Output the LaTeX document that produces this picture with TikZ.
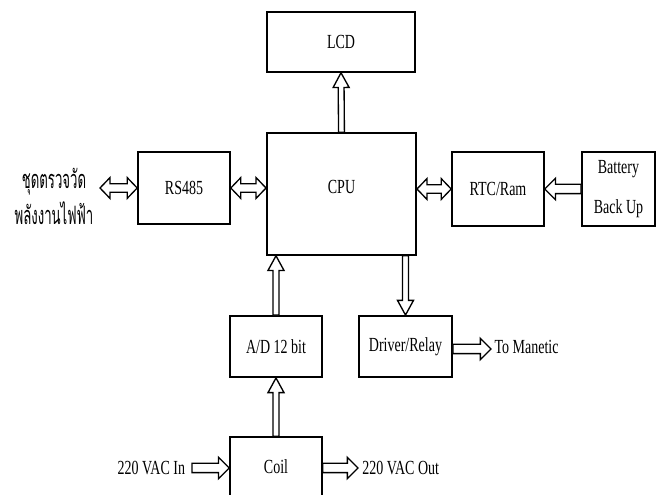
\documentclass[tikz,border=0pt]{standalone}
\usepackage{fontspec}
\setmainfont{Liberation Serif}[FakeStretch=0.7]
\newfontfamily\thaifont[Script=Thai,FakeStretch=0.52]{Loma}
\usetikzlibrary{calc}

\tikzset{
  arrw/.store in=\arrw, arrh/.store in=\arrh, arrl/.store in=\arrl,
  arrw=2.2pt, arrh=6pt, arrl=11pt,
  blk/.style={draw, line width=1.2pt, inner sep=0pt, align=center},
  txt/.style={inner sep=0pt},
  barr/.style={draw, line width=1pt, fill=white,
    to path={let \p1=(\tikztostart), \p2=(\tikztotarget), \p3=($(\p2)!\arrl!(\p1)$) in
      ($(\p1)!\arrw!90:(\p2)$) -- ($(\p3)!\arrw!90:(\p2)$) -- ($(\p3)!\arrh!90:(\p2)$) -- (\p2)
      -- ($(\p3)!\arrh!-90:(\p2)$) -- ($(\p3)!\arrw!-90:(\p2)$) -- ($(\p1)!\arrw!-90:(\p2)$) -- cycle}},
  barrboth/.style={draw, line width=1pt, fill=white,
    to path={let \p1=(\tikztostart), \p2=(\tikztotarget), \p3=($(\p2)!\arrl!(\p1)$), \p4=($(\p1)!\arrl!(\p2)$) in
      (\p1) -- ($(\p4)!\arrh!90:(\p2)$) -- ($(\p4)!\arrw!90:(\p2)$) -- ($(\p3)!\arrw!90:(\p2)$) -- ($(\p3)!\arrh!90:(\p2)$) -- (\p2)
      -- ($(\p3)!\arrh!-90:(\p2)$) -- ($(\p3)!\arrw!-90:(\p2)$) -- ($(\p4)!\arrw!-90:(\p2)$) -- ($(\p4)!\arrh!-90:(\p2)$) -- cycle}},
  hbarr/.style={barr, arrw=3.5pt, arrh=8pt, arrl=8pt},
  hbarrboth/.style={barrboth, arrw=3.2pt, arrh=7.8pt, arrl=7.5pt}
}

\begin{document}
\begin{tikzpicture}[x=0.75pt, y=-0.75pt, font=\fontsize{15}{18}\selectfont]
    \useasboundingbox (0,0) rectangle (662,495);
    \node[blk, minimum width=111pt, minimum height=45pt] (lcd) at (341,42) {LCD};
    \node[blk, minimum width=112pt, minimum height=91.5pt] (cpu) at (341.5,194) {\raisebox{10pt}{CPU}};
    \node[blk, minimum width=69pt, minimum height=54pt] (rs) at (184,188) {RS485};
    \node[blk, minimum width=69pt, minimum height=55.5pt] (rtc) at (498,189) {RTC/Ram};
    \node[blk, minimum width=55pt, minimum height=55.5pt] (bat) at (618.5,189) {Battery\\[12pt]Back Up};
    \node[blk, minimum width=69pt, minimum height=46pt] (ad) at (276,346.5) {A/D 12 bit};
    \node[blk, minimum width=70pt, minimum height=46pt] (drv) at (405.5,346.5) {Driver/Relay};
    \node[blk, minimum width=69pt, minimum height=45pt] (coil) at (276,467) {Coil};
    \node[txt, align=center, font=\thaifont\fontsize{19}{22}\selectfont] (sense) at (54,196) {ชุดตรวจวัด\\[4pt]พลังงานไฟฟ้า};
    \coordinate (sensep) at (100,188);
    \coordinate (tm) at (491,349);
    \coordinate (vin) at (192,468);
    \coordinate (vout) at (358,468);
    \node[txt, anchor=west] (tmtxt) at ($(tm)+(2.5pt,1.5pt)$) {To Manetic};
    \node[txt, anchor=east] (vintxt) at ($(vin)+(-5pt,0)$) {220 VAC In};
    \node[txt, anchor=west] (vouttxt) at ($(vout)+(3pt,0)$) {220 VAC Out};
    \draw[barr] (cpu.north) to (lcd.south);
    \draw[barr] (ad.north) to (ad.north |- cpu.south);
    \draw[barr] (drv.north |- cpu.south) to (drv.north);
    \draw[barr] (coil.north) to (ad.south);
    \draw[hbarrboth] (sensep) to (rs.west);
    \draw[hbarrboth] (rs.east) to (rs.east -| cpu.west);
    \draw[hbarrboth] (cpu.east |- rtc.west) to (rtc.west);
    \draw[hbarr] (bat.west) to (rtc.east);
    \draw[hbarr] (drv.east |- tm) to (tm);
    \draw[hbarr] (vin) to (coil.west |- vin);
    \draw[hbarr] (coil.east |- vout) to (vout);
\end{tikzpicture}
\end{document}
